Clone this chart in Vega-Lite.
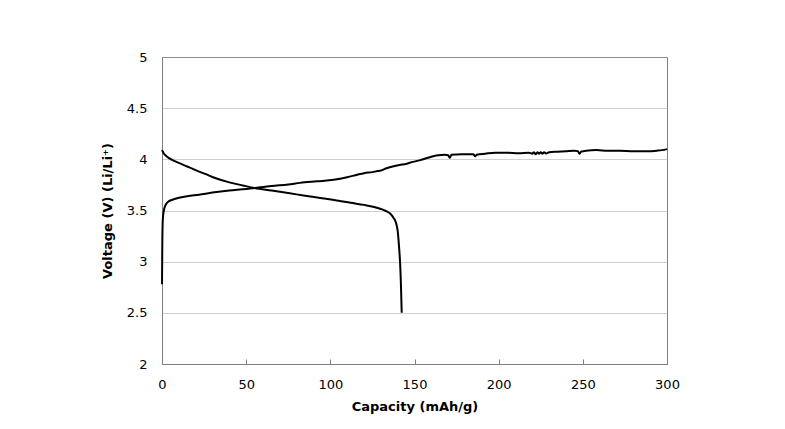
{
  "$schema": "https://vega.github.io/schema/vega-lite/v6.json",
  "width": 505,
  "height": 307,
  "autosize": {"type": "none"},
  "padding": {"left": 162, "top": 57, "right": 118, "bottom": 65},
  "background": "white",
  "config": {
    "font": "DejaVu Sans",
    "view": {"stroke": "#7f7f7f", "strokeWidth": 1}
  },
  "data": {
    "values": [
      {"s": "charge", "i": 0, "cap": 0, "v": 2.78},
      {"s": "charge", "i": 1, "cap": 0.2, "v": 3.2},
      {"s": "charge", "i": 2, "cap": 0.5, "v": 3.42},
      {"s": "charge", "i": 3, "cap": 1, "v": 3.49},
      {"s": "charge", "i": 4, "cap": 2, "v": 3.55},
      {"s": "charge", "i": 5, "cap": 4, "v": 3.59},
      {"s": "charge", "i": 6, "cap": 7, "v": 3.61},
      {"s": "charge", "i": 7, "cap": 10, "v": 3.625},
      {"s": "charge", "i": 8, "cap": 15, "v": 3.64},
      {"s": "charge", "i": 9, "cap": 22, "v": 3.655},
      {"s": "charge", "i": 10, "cap": 30, "v": 3.675},
      {"s": "charge", "i": 11, "cap": 40, "v": 3.695},
      {"s": "charge", "i": 12, "cap": 50, "v": 3.71},
      {"s": "charge", "i": 13, "cap": 55, "v": 3.72},
      {"s": "charge", "i": 14, "cap": 65, "v": 3.74},
      {"s": "charge", "i": 15, "cap": 75, "v": 3.755},
      {"s": "charge", "i": 16, "cap": 82, "v": 3.77},
      {"s": "charge", "i": 17, "cap": 92, "v": 3.785},
      {"s": "charge", "i": 18, "cap": 102, "v": 3.8},
      {"s": "charge", "i": 19, "cap": 110, "v": 3.825},
      {"s": "charge", "i": 20, "cap": 116, "v": 3.85},
      {"s": "charge", "i": 21, "cap": 120, "v": 3.865},
      {"s": "charge", "i": 22, "cap": 125, "v": 3.875},
      {"s": "charge", "i": 23, "cap": 128, "v": 3.885},
      {"s": "charge", "i": 24, "cap": 130, "v": 3.89},
      {"s": "charge", "i": 25, "cap": 133, "v": 3.91},
      {"s": "charge", "i": 26, "cap": 137, "v": 3.93},
      {"s": "charge", "i": 27, "cap": 141, "v": 3.945},
      {"s": "charge", "i": 28, "cap": 145, "v": 3.955},
      {"s": "charge", "i": 29, "cap": 149, "v": 3.975},
      {"s": "charge", "i": 30, "cap": 153, "v": 3.99},
      {"s": "charge", "i": 31, "cap": 157, "v": 4.01},
      {"s": "charge", "i": 32, "cap": 160, "v": 4.025},
      {"s": "charge", "i": 33, "cap": 164, "v": 4.04},
      {"s": "charge", "i": 34, "cap": 168, "v": 4.045},
      {"s": "charge", "i": 35, "cap": 170, "v": 4.04},
      {"s": "charge", "i": 36, "cap": 171, "v": 4.015},
      {"s": "charge", "i": 37, "cap": 172, "v": 4.045},
      {"s": "charge", "i": 38, "cap": 178, "v": 4.05},
      {"s": "charge", "i": 39, "cap": 185, "v": 4.05},
      {"s": "charge", "i": 40, "cap": 186, "v": 4.03},
      {"s": "charge", "i": 41, "cap": 187, "v": 4.045},
      {"s": "charge", "i": 42, "cap": 192, "v": 4.055},
      {"s": "charge", "i": 43, "cap": 198, "v": 4.065},
      {"s": "charge", "i": 44, "cap": 205, "v": 4.065},
      {"s": "charge", "i": 45, "cap": 212, "v": 4.06},
      {"s": "charge", "i": 46, "cap": 218, "v": 4.065},
      {"s": "charge", "i": 47, "cap": 220, "v": 4.055},
      {"s": "charge", "i": 48, "cap": 221, "v": 4.07},
      {"s": "charge", "i": 49, "cap": 222, "v": 4.05},
      {"s": "charge", "i": 50, "cap": 223, "v": 4.07},
      {"s": "charge", "i": 51, "cap": 224, "v": 4.055},
      {"s": "charge", "i": 52, "cap": 225, "v": 4.07},
      {"s": "charge", "i": 53, "cap": 226, "v": 4.055},
      {"s": "charge", "i": 54, "cap": 227, "v": 4.07},
      {"s": "charge", "i": 55, "cap": 228, "v": 4.058},
      {"s": "charge", "i": 56, "cap": 230, "v": 4.07},
      {"s": "charge", "i": 57, "cap": 235, "v": 4.075},
      {"s": "charge", "i": 58, "cap": 240, "v": 4.08},
      {"s": "charge", "i": 59, "cap": 245, "v": 4.085},
      {"s": "charge", "i": 60, "cap": 247, "v": 4.08},
      {"s": "charge", "i": 61, "cap": 248, "v": 4.055},
      {"s": "charge", "i": 62, "cap": 249, "v": 4.075},
      {"s": "charge", "i": 63, "cap": 252, "v": 4.085},
      {"s": "charge", "i": 64, "cap": 258, "v": 4.09},
      {"s": "charge", "i": 65, "cap": 265, "v": 4.085},
      {"s": "charge", "i": 66, "cap": 272, "v": 4.085},
      {"s": "charge", "i": 67, "cap": 280, "v": 4.08},
      {"s": "charge", "i": 68, "cap": 288, "v": 4.08},
      {"s": "charge", "i": 69, "cap": 294, "v": 4.085},
      {"s": "charge", "i": 70, "cap": 297, "v": 4.09},
      {"s": "charge", "i": 71, "cap": 300, "v": 4.1},
      {"s": "discharge", "i": 0, "cap": 0, "v": 4.09},
      {"s": "discharge", "i": 1, "cap": 1, "v": 4.06},
      {"s": "discharge", "i": 2, "cap": 3, "v": 4.025},
      {"s": "discharge", "i": 3, "cap": 6, "v": 3.995},
      {"s": "discharge", "i": 4, "cap": 10, "v": 3.965},
      {"s": "discharge", "i": 5, "cap": 15, "v": 3.93},
      {"s": "discharge", "i": 6, "cap": 20, "v": 3.895},
      {"s": "discharge", "i": 7, "cap": 26, "v": 3.855},
      {"s": "discharge", "i": 8, "cap": 32, "v": 3.815},
      {"s": "discharge", "i": 9, "cap": 40, "v": 3.775},
      {"s": "discharge", "i": 10, "cap": 48, "v": 3.745},
      {"s": "discharge", "i": 11, "cap": 55, "v": 3.72},
      {"s": "discharge", "i": 12, "cap": 65, "v": 3.695},
      {"s": "discharge", "i": 13, "cap": 75, "v": 3.67},
      {"s": "discharge", "i": 14, "cap": 85, "v": 3.645},
      {"s": "discharge", "i": 15, "cap": 95, "v": 3.62},
      {"s": "discharge", "i": 16, "cap": 105, "v": 3.595},
      {"s": "discharge", "i": 17, "cap": 112, "v": 3.575},
      {"s": "discharge", "i": 18, "cap": 120, "v": 3.555},
      {"s": "discharge", "i": 19, "cap": 126, "v": 3.535},
      {"s": "discharge", "i": 20, "cap": 130, "v": 3.515},
      {"s": "discharge", "i": 21, "cap": 133, "v": 3.495},
      {"s": "discharge", "i": 22, "cap": 135.5, "v": 3.47},
      {"s": "discharge", "i": 23, "cap": 137.5, "v": 3.43},
      {"s": "discharge", "i": 24, "cap": 139, "v": 3.38},
      {"s": "discharge", "i": 25, "cap": 140, "v": 3.3},
      {"s": "discharge", "i": 26, "cap": 140.8, "v": 3.15},
      {"s": "discharge", "i": 27, "cap": 141.4, "v": 3.0},
      {"s": "discharge", "i": 28, "cap": 141.9, "v": 2.8},
      {"s": "discharge", "i": 29, "cap": 142.4, "v": 2.5}
    ]
  },
  "mark": {"type": "line", "color": "black", "strokeWidth": 2, "interpolate": "monotone"},
  "encoding": {
    "x": {
      "field": "cap", "type": "quantitative",
      "scale": {"domain": [0, 300], "nice": false},
      "axis": {
        "title": "Capacity (mAh/g)", "values": [0, 50, 100, 150, 200, 250, 300],
        "grid": false, "domainColor": "#7f7f7f", "tickColor": "#7f7f7f", "tickSize": -5,
        "labelFlush": false,
        "labelPadding": 19, "labelFontSize": 13, "labelColor": "#000000",
        "titleFontSize": 13, "titleFontWeight": "bold", "titleColor": "#000000", "titlePadding": 9
      }
    },
    "y": {
      "field": "v", "type": "quantitative",
      "scale": {"domain": [2, 5], "nice": false, "zero": false},
      "axis": {
        "title": "Voltage (V) (Li/Li⁺)", "values": [2, 2.5, 3, 3.5, 4, 4.5, 5],
        "format": "~g", "labelFlush": false,
        "grid": true, "gridColor": "#a0a0a0", "gridDash": [1, 1], "gridWidth": 1,
        "domainColor": "#7f7f7f", "ticks": false,
        "labelPadding": 15, "labelFontSize": 13, "labelColor": "#000000",
        "titleFontSize": 13, "titleFontWeight": "bold", "titleColor": "#000000", "titlePadding": 12
      }
    },
    "detail": {"field": "s"},
    "order": {"field": "i", "type": "quantitative"}
  }
}
